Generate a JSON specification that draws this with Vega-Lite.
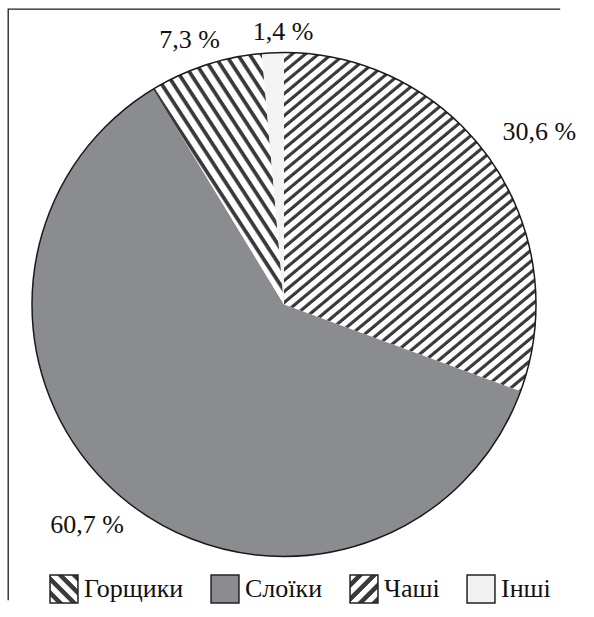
{
  "$schema": "https://vega.github.io/schema/vega-lite/v6.json",
  "width": 552,
  "height": 591,
  "autosize": {"type": "none"},
  "padding": {"left": 8, "top": 9, "right": 34, "bottom": 17},
  "background": "#ffffff",
  "view": {"stroke": "#1e1e1e", "strokeWidth": 1.3, "strokeDash": [552, 1143, 591]},
  "config": {
    "legend": {"labelFont": "Liberation Serif, DejaVu Serif, serif", "labelFontSize": 26, "labelColor": "#111"},
    "style": {"guide-label": {"font": "Liberation Serif, DejaVu Serif, serif", "fontSize": 26, "fill": "#111"}}
  },
  "params": [
    {"name": "hs", "value": [
      {"offset":0,"color":"#fff"},{"offset":0.01,"color":"#fff"},{"offset":0.013,"color":"#3a3a3a"},{"offset":0.018,"color":"#3a3a3a"},
      {"offset":0.02,"color":"#fff"},{"offset":0.03,"color":"#fff"},{"offset":0.033,"color":"#3a3a3a"},{"offset":0.038,"color":"#3a3a3a"},
      {"offset":0.04,"color":"#fff"},{"offset":0.05,"color":"#fff"},{"offset":0.053,"color":"#3a3a3a"},{"offset":0.058,"color":"#3a3a3a"},
      {"offset":0.06,"color":"#fff"},{"offset":0.07,"color":"#fff"},{"offset":0.073,"color":"#3a3a3a"},{"offset":0.078,"color":"#3a3a3a"},
      {"offset":0.08,"color":"#fff"},{"offset":0.09,"color":"#fff"},{"offset":0.093,"color":"#3a3a3a"},{"offset":0.098,"color":"#3a3a3a"},
      {"offset":0.1,"color":"#fff"},{"offset":0.11,"color":"#fff"},{"offset":0.113,"color":"#3a3a3a"},{"offset":0.118,"color":"#3a3a3a"},
      {"offset":0.12,"color":"#fff"},{"offset":0.13,"color":"#fff"},{"offset":0.133,"color":"#3a3a3a"},{"offset":0.138,"color":"#3a3a3a"},
      {"offset":0.14,"color":"#fff"},{"offset":0.15,"color":"#fff"},{"offset":0.153,"color":"#3a3a3a"},{"offset":0.158,"color":"#3a3a3a"},
      {"offset":0.16,"color":"#fff"},{"offset":0.17,"color":"#fff"},{"offset":0.173,"color":"#3a3a3a"},{"offset":0.178,"color":"#3a3a3a"},
      {"offset":0.18,"color":"#fff"},{"offset":0.19,"color":"#fff"},{"offset":0.193,"color":"#3a3a3a"},{"offset":0.198,"color":"#3a3a3a"},
      {"offset":0.2,"color":"#fff"},{"offset":0.21,"color":"#fff"},{"offset":0.213,"color":"#3a3a3a"},{"offset":0.218,"color":"#3a3a3a"},
      {"offset":0.22,"color":"#fff"},{"offset":0.23,"color":"#fff"},{"offset":0.233,"color":"#3a3a3a"},{"offset":0.238,"color":"#3a3a3a"},
      {"offset":0.24,"color":"#fff"},{"offset":0.25,"color":"#fff"},{"offset":0.253,"color":"#3a3a3a"},{"offset":0.258,"color":"#3a3a3a"},
      {"offset":0.26,"color":"#fff"},{"offset":0.27,"color":"#fff"},{"offset":0.273,"color":"#3a3a3a"},{"offset":0.278,"color":"#3a3a3a"},
      {"offset":0.28,"color":"#fff"},{"offset":0.29,"color":"#fff"},{"offset":0.293,"color":"#3a3a3a"},{"offset":0.298,"color":"#3a3a3a"},
      {"offset":0.3,"color":"#fff"},{"offset":0.31,"color":"#fff"},{"offset":0.313,"color":"#3a3a3a"},{"offset":0.318,"color":"#3a3a3a"},
      {"offset":0.32,"color":"#fff"},{"offset":0.33,"color":"#fff"},{"offset":0.333,"color":"#3a3a3a"},{"offset":0.338,"color":"#3a3a3a"},
      {"offset":0.34,"color":"#fff"},{"offset":0.35,"color":"#fff"},{"offset":0.353,"color":"#3a3a3a"},{"offset":0.358,"color":"#3a3a3a"},
      {"offset":0.36,"color":"#fff"},{"offset":0.37,"color":"#fff"},{"offset":0.373,"color":"#3a3a3a"},{"offset":0.378,"color":"#3a3a3a"},
      {"offset":0.38,"color":"#fff"},{"offset":0.39,"color":"#fff"},{"offset":0.393,"color":"#3a3a3a"},{"offset":0.398,"color":"#3a3a3a"},
      {"offset":0.4,"color":"#fff"},{"offset":0.41,"color":"#fff"},{"offset":0.413,"color":"#3a3a3a"},{"offset":0.418,"color":"#3a3a3a"},
      {"offset":0.42,"color":"#fff"},{"offset":0.43,"color":"#fff"},{"offset":0.433,"color":"#3a3a3a"},{"offset":0.438,"color":"#3a3a3a"},
      {"offset":0.44,"color":"#fff"},{"offset":0.45,"color":"#fff"},{"offset":0.453,"color":"#3a3a3a"},{"offset":0.458,"color":"#3a3a3a"},
      {"offset":0.46,"color":"#fff"},{"offset":0.47,"color":"#fff"},{"offset":0.473,"color":"#3a3a3a"},{"offset":0.478,"color":"#3a3a3a"},
      {"offset":0.48,"color":"#fff"},{"offset":0.49,"color":"#fff"},{"offset":0.493,"color":"#3a3a3a"},{"offset":0.498,"color":"#3a3a3a"},
      {"offset":0.5,"color":"#fff"},{"offset":0.51,"color":"#fff"},{"offset":0.513,"color":"#3a3a3a"},{"offset":0.518,"color":"#3a3a3a"},
      {"offset":0.52,"color":"#fff"},{"offset":0.53,"color":"#fff"},{"offset":0.533,"color":"#3a3a3a"},{"offset":0.538,"color":"#3a3a3a"},
      {"offset":0.54,"color":"#fff"},{"offset":0.55,"color":"#fff"},{"offset":0.553,"color":"#3a3a3a"},{"offset":0.558,"color":"#3a3a3a"},
      {"offset":0.56,"color":"#fff"},{"offset":0.57,"color":"#fff"},{"offset":0.573,"color":"#3a3a3a"},{"offset":0.578,"color":"#3a3a3a"},
      {"offset":0.58,"color":"#fff"},{"offset":0.59,"color":"#fff"},{"offset":0.593,"color":"#3a3a3a"},{"offset":0.598,"color":"#3a3a3a"},
      {"offset":0.6,"color":"#fff"},{"offset":0.61,"color":"#fff"},{"offset":0.613,"color":"#3a3a3a"},{"offset":0.618,"color":"#3a3a3a"},
      {"offset":0.62,"color":"#fff"},{"offset":0.63,"color":"#fff"},{"offset":0.633,"color":"#3a3a3a"},{"offset":0.638,"color":"#3a3a3a"},
      {"offset":0.64,"color":"#fff"},{"offset":0.65,"color":"#fff"},{"offset":0.653,"color":"#3a3a3a"},{"offset":0.658,"color":"#3a3a3a"},
      {"offset":0.66,"color":"#fff"},{"offset":0.67,"color":"#fff"},{"offset":0.673,"color":"#3a3a3a"},{"offset":0.678,"color":"#3a3a3a"},
      {"offset":0.68,"color":"#fff"},{"offset":0.69,"color":"#fff"},{"offset":0.693,"color":"#3a3a3a"},{"offset":0.698,"color":"#3a3a3a"},
      {"offset":0.7,"color":"#fff"},{"offset":0.71,"color":"#fff"},{"offset":0.713,"color":"#3a3a3a"},{"offset":0.718,"color":"#3a3a3a"},
      {"offset":0.72,"color":"#fff"},{"offset":0.73,"color":"#fff"},{"offset":0.733,"color":"#3a3a3a"},{"offset":0.738,"color":"#3a3a3a"},
      {"offset":0.74,"color":"#fff"},{"offset":0.75,"color":"#fff"},{"offset":0.753,"color":"#3a3a3a"},{"offset":0.758,"color":"#3a3a3a"},
      {"offset":0.76,"color":"#fff"},{"offset":0.77,"color":"#fff"},{"offset":0.773,"color":"#3a3a3a"},{"offset":0.778,"color":"#3a3a3a"},
      {"offset":0.78,"color":"#fff"},{"offset":0.79,"color":"#fff"},{"offset":0.793,"color":"#3a3a3a"},{"offset":0.798,"color":"#3a3a3a"},
      {"offset":0.8,"color":"#fff"},{"offset":0.81,"color":"#fff"},{"offset":0.813,"color":"#3a3a3a"},{"offset":0.818,"color":"#3a3a3a"},
      {"offset":0.82,"color":"#fff"},{"offset":0.83,"color":"#fff"},{"offset":0.833,"color":"#3a3a3a"},{"offset":0.838,"color":"#3a3a3a"},
      {"offset":0.84,"color":"#fff"},{"offset":0.85,"color":"#fff"},{"offset":0.853,"color":"#3a3a3a"},{"offset":0.858,"color":"#3a3a3a"},
      {"offset":0.86,"color":"#fff"},{"offset":0.87,"color":"#fff"},{"offset":0.873,"color":"#3a3a3a"},{"offset":0.878,"color":"#3a3a3a"},
      {"offset":0.88,"color":"#fff"},{"offset":0.89,"color":"#fff"},{"offset":0.893,"color":"#3a3a3a"},{"offset":0.898,"color":"#3a3a3a"},
      {"offset":0.9,"color":"#fff"},{"offset":0.91,"color":"#fff"},{"offset":0.913,"color":"#3a3a3a"},{"offset":0.918,"color":"#3a3a3a"},
      {"offset":0.92,"color":"#fff"},{"offset":0.93,"color":"#fff"},{"offset":0.933,"color":"#3a3a3a"},{"offset":0.938,"color":"#3a3a3a"},
      {"offset":0.94,"color":"#fff"},{"offset":0.95,"color":"#fff"},{"offset":0.953,"color":"#3a3a3a"},{"offset":0.958,"color":"#3a3a3a"},
      {"offset":0.96,"color":"#fff"},{"offset":0.97,"color":"#fff"},{"offset":0.973,"color":"#3a3a3a"},{"offset":0.978,"color":"#3a3a3a"},
      {"offset":0.98,"color":"#fff"},{"offset":0.99,"color":"#fff"},{"offset":0.993,"color":"#3a3a3a"},{"offset":0.998,"color":"#3a3a3a"},
      {"offset":1,"color":"#fff"}
    ]},
    {"name": "ls", "value": [
      {"offset":0,"color":"#fff"},{"offset":0.11,"color":"#fff"},{"offset":0.14,"color":"#3a3a3a"},{"offset":0.23,"color":"#3a3a3a"},
      {"offset":0.25,"color":"#fff"},{"offset":0.36,"color":"#fff"},{"offset":0.39,"color":"#3a3a3a"},{"offset":0.48,"color":"#3a3a3a"},
      {"offset":0.5,"color":"#fff"},{"offset":0.61,"color":"#fff"},{"offset":0.64,"color":"#3a3a3a"},{"offset":0.73,"color":"#3a3a3a"},
      {"offset":0.75,"color":"#fff"},{"offset":0.86,"color":"#fff"},{"offset":0.89,"color":"#3a3a3a"},{"offset":0.98,"color":"#3a3a3a"},
      {"offset":1,"color":"#fff"}
    ]}
  ],
  "data": {"values": [
    {"cat": "Чаші", "val": 30.6, "lbl": "30,6 %"},
    {"cat": "Слоїки", "val": 60.7, "lbl": "60,7 %"},
    {"cat": "Горщики", "val": 7.3, "lbl": "7,3 %"},
    {"cat": "Інші", "val": 1.4, "lbl": "1,4 %"}
  ]},
  "layer": [
    {
      "mark": {"type": "arc", "radius": 252},
      "encoding": {
        "theta": {"field": "val", "type": "quantitative", "stack": true},
        "order": {"field": "cat", "sort": "descending"},
        "fill": {
          "condition": [
            {"test": "datum.cat === 'Чаші'", "value": {"expr": "{gradient:'linear',x1:0,y1:0,x2:0.727,y2:1.17,stops:hs}"}},
            {"test": "datum.cat === 'Горщики'", "value": {"expr": "{gradient:'linear',x1:0,y1:1,x2:1.78,y2:-1.22,stops:hs}"}},
            {"test": "datum.cat === 'Слоїки'", "value": "#8b8c8f"}
          ],
          "value": "#f3f3f3"
        }
      }
    },
    {
      "mark": {"type": "arc", "radius": 0},
      "encoding": {
        "theta": {"field": "val", "type": "quantitative", "stack": true},
        "order": {"field": "cat", "sort": "descending"},
        "fill": {
          "field": "cat", "type": "nominal",
          "scale": {
            "domain": ["Горщики", "Слоїки", "Чаші", "Інші"],
            "range": [
              {"expr": "{gradient:'linear',x1:0,y1:1,x2:1,y2:0,stops:ls}"},
              "#8b8c8f",
              {"expr": "{gradient:'linear',x1:0,y1:0,x2:1,y2:1,stops:ls}"},
              "#f1f1f1"
            ]
          },
          "legend": {
            "title": null,
            "orient": "none",
            "legendX": 41,
            "legendY": 565,
            "direction": "horizontal",
            "padding": 0,
            "symbolType": "square",
            "symbolSize": 780,
            "symbolOpacity": 1,
            "symbolStrokeColor": "#222",
            "symbolStrokeWidth": 1.5,
            "labelFont": "Liberation Serif, DejaVu Serif, serif",
            "labelFontSize": 26,
            "labelColor": "#111",
            "labelOffset": 5,
            "columnPadding": 24,
            "labelLimit": 300
          }
        }
      }
    },
    {
      "mark": {
        "type": "text",
        "font": "Liberation Serif",
        "fontSize": 26,
        "color": "#111",
        "align": "center",
        "baseline": "middle",
        "radius": {"expr": "datum.cat === 'Чаші' ? 309 : datum.cat === 'Слоїки' ? 296 : datum.cat === 'Горщики' ? 280 : 273"},
        "dx": {"expr": "datum.cat === 'Чаші' ? 2 : datum.cat === 'Слоїки' ? -9 : datum.cat === 'Горщики' ? -7 : 11"},
        "dy": {"expr": "datum.cat === 'Чаші' ? 4 : datum.cat === 'Слоїки' ? -8 : datum.cat === 'Горщики' ? 2 : 0"}
      },
      "encoding": {
        "theta": {"field": "val", "type": "quantitative", "stack": true},
        "order": {"field": "cat", "sort": "descending"},
        "text": {"field": "lbl", "type": "nominal"}
      }
    },
    {
      "data": {"values": [{"v": 100}]},
      "mark": {"type": "arc", "radius": 252, "filled": false, "stroke": "#1a1a1a", "strokeWidth": 1.5},
      "encoding": {
        "theta": {"field": "v", "type": "quantitative"}
      }
    }
  ]
}
